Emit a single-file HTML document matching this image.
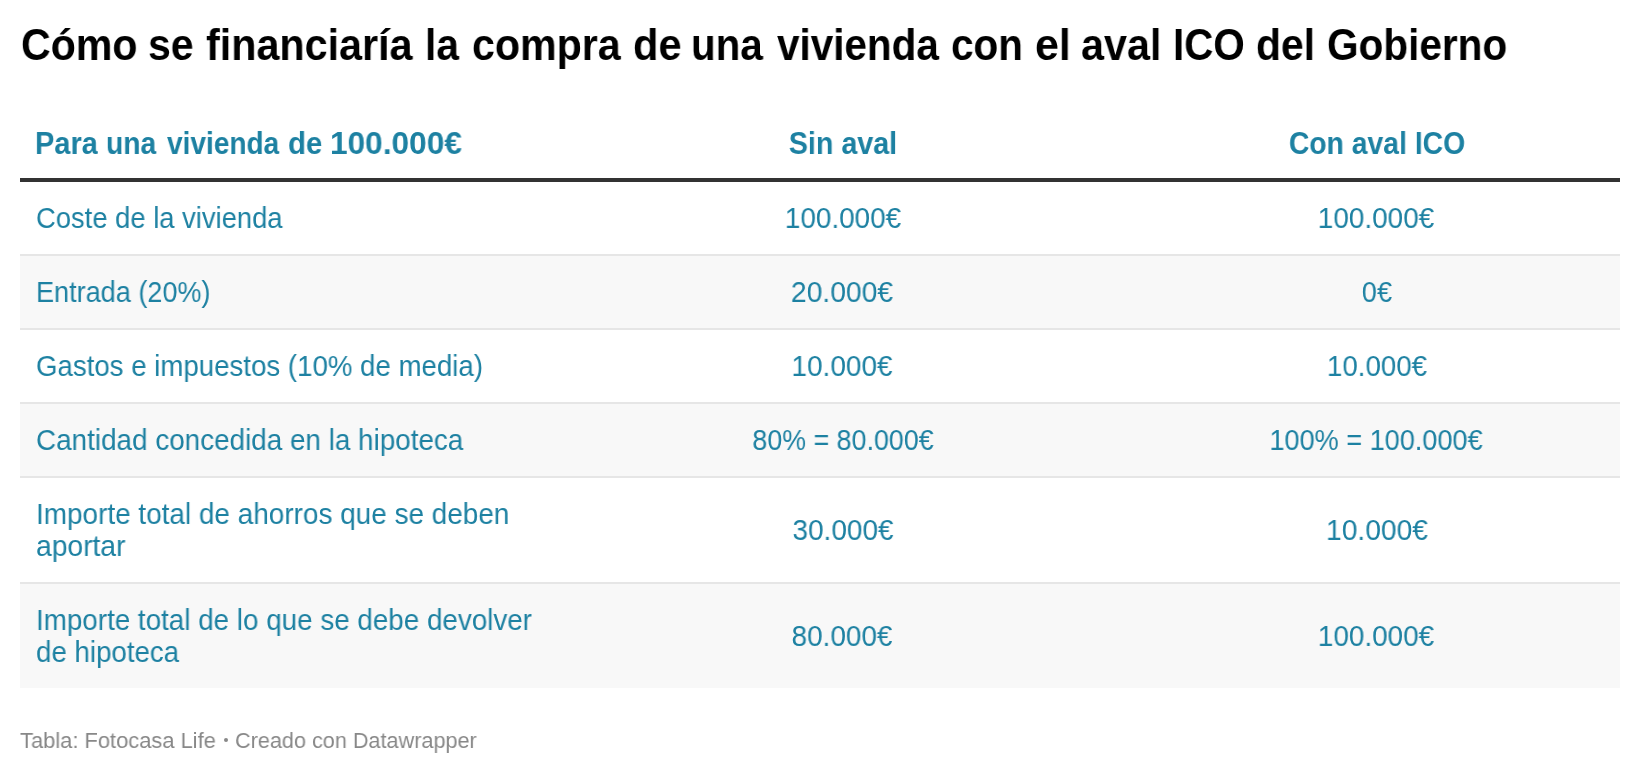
<!DOCTYPE html>
<html lang="es">
<head>
<meta charset="utf-8">
<title>Cómo se financiaría la compra de una vivienda con el aval ICO del Gobierno</title>
<style>
  html, body { margin: 0; padding: 0; background: #fff; }
  body { width: 1640px; height: 774px; position: relative; overflow: hidden;
         font-family: "Liberation Sans", sans-serif; }
  .t { position: absolute; white-space: nowrap; will-change: transform; }
  .row { position: absolute; left: 20px; width: 1600px; background: #f8f8f8; }
  .bd { position: absolute; left: 20px; width: 1600px; height: 2px; background: #e6e6e6; }
</style>
</head>
<body>
  <div style="position:absolute;left:20px;top:178px;width:1600px;height:4px;background:#333;"></div>
  <div class="row" style="top:256px;height:72px;"></div>
  <div class="row" style="top:404px;height:72px;"></div>
  <div class="row" style="top:584px;height:104px;"></div>
  <div class="bd" style="top:254px;"></div>
  <div class="bd" style="top:328px;"></div>
  <div class="bd" style="top:402px;"></div>
  <div class="bd" style="top:476px;"></div>
  <div class="bd" style="top:582px;"></div>
  <div style="position:absolute;left:223.6px;top:737.5px;width:4.6px;height:4.6px;border-radius:50%;background:#888;"></div>
  <div class="t" id="tw0" style="top:19.00px;font-size:45px;line-height:52px;color:#000;font-weight:bold;transform:scaleX(0.9136);transform-origin:0 0;left:20.50px;">Cómo</div>
  <div class="t" id="tw1" style="top:19.00px;font-size:45px;line-height:52px;color:#000;font-weight:bold;transform:scaleX(0.9109);transform-origin:0 0;left:147.50px;">se</div>
  <div class="t" id="tw2" style="top:19.00px;font-size:45px;line-height:52px;color:#000;font-weight:bold;transform:scaleX(0.9176);transform-origin:0 0;left:205.50px;">financiaría</div>
  <div class="t" id="tw3" style="top:19.00px;font-size:45px;line-height:52px;color:#000;font-weight:bold;transform:scaleX(0.9043);transform-origin:0 0;left:425.00px;">la</div>
  <div class="t" id="tw4" style="top:19.00px;font-size:45px;line-height:52px;color:#000;font-weight:bold;transform:scaleX(0.9148);transform-origin:0 0;left:471.50px;">compra</div>
  <div class="t" id="tw5" style="top:19.00px;font-size:45px;line-height:52px;color:#000;font-weight:bold;transform:scaleX(0.9258);transform-origin:0 0;left:632.50px;">de</div>
  <div class="t" id="tw6" style="top:19.00px;font-size:45px;line-height:52px;color:#000;font-weight:bold;transform:scaleX(0.8963);transform-origin:0 0;left:690.50px;">una</div>
  <div class="t" id="tw7" style="top:19.00px;font-size:45px;line-height:52px;color:#000;font-weight:bold;transform:scaleX(0.8991);transform-origin:0 0;left:776.50px;">vivienda</div>
  <div class="t" id="tw8" style="top:19.00px;font-size:45px;line-height:52px;color:#000;font-weight:bold;transform:scaleX(0.8990);transform-origin:0 0;left:951.00px;">con</div>
  <div class="t" id="tw9" style="top:19.00px;font-size:45px;line-height:52px;color:#000;font-weight:bold;transform:scaleX(0.9530);transform-origin:0 0;left:1034.50px;">el</div>
  <div class="t" id="tw10" style="top:19.00px;font-size:45px;line-height:52px;color:#000;font-weight:bold;transform:scaleX(0.9191);transform-origin:0 0;left:1081.00px;">aval</div>
  <div class="t" id="tw11" style="top:19.00px;font-size:45px;line-height:52px;color:#000;font-weight:bold;transform:scaleX(0.8962);transform-origin:0 0;left:1172.50px;">ICO</div>
  <div class="t" id="tw12" style="top:19.00px;font-size:45px;line-height:52px;color:#000;font-weight:bold;transform:scaleX(0.9081);transform-origin:0 0;left:1256.00px;">del</div>
  <div class="t" id="tw13" style="top:19.00px;font-size:45px;line-height:52px;color:#000;font-weight:bold;transform:scaleX(0.9010);transform-origin:0 0;left:1327.00px;">Gobierno</div>
  <div class="t" id="hw0" style="top:125.00px;font-size:32px;line-height:37px;color:#1d81a2;font-weight:bold;transform:scaleX(0.9060);transform-origin:0 0;left:35.00px;">Para</div>
  <div class="t" id="hw1" style="top:125.00px;font-size:32px;line-height:37px;color:#1d81a2;font-weight:bold;transform:scaleX(0.8837);transform-origin:0 0;left:105.50px;">una</div>
  <div class="t" id="hw2" style="top:125.00px;font-size:32px;line-height:37px;color:#1d81a2;font-weight:bold;transform:scaleX(0.8759);transform-origin:0 0;left:166.50px;">vivienda</div>
  <div class="t" id="hw3" style="top:125.00px;font-size:32px;line-height:37px;color:#1d81a2;font-weight:bold;transform:scaleX(0.9207);transform-origin:0 0;left:288.00px;">de</div>
  <div class="t" id="hw4" style="top:125.00px;font-size:32px;line-height:37px;color:#1d81a2;font-weight:bold;transform:scaleX(0.9878);transform-origin:0 0;left:329.50px;">100.000€</div>
  <div class="t" id="h2" style="top:125.00px;font-size:32px;line-height:37px;color:#1d81a2;font-weight:bold;transform:scaleX(0.8949);transform-origin:50% 0;left:551.60px;width:582px;text-align:center;">Sin aval</div>
  <div class="t" id="h3" style="top:125.00px;font-size:32px;line-height:37px;color:#1d81a2;font-weight:bold;transform:scaleX(0.8853);transform-origin:50% 0;left:1133.90px;width:486px;text-align:center;">Con aval ICO</div>
  <div class="t" id="r1a" style="top:202.00px;font-size:29px;line-height:33px;color:#1d81a2;transform:scaleX(0.9439);transform-origin:0 0;left:36.00px;">Coste de la vivienda</div>
  <div class="t" id="r1b" style="top:202.00px;font-size:29px;line-height:33px;color:#1d81a2;transform:scaleX(0.9614);transform-origin:50% 0;left:551.70px;width:582px;text-align:center;">100.000€</div>
  <div class="t" id="r1c" style="top:202.00px;font-size:29px;line-height:33px;color:#1d81a2;transform:scaleX(0.9631);transform-origin:50% 0;left:1132.80px;width:486px;text-align:center;">100.000€</div>
  <div class="t" id="r2a" style="top:276.00px;font-size:29px;line-height:33px;color:#1d81a2;transform:scaleX(0.9333);transform-origin:0 0;left:36.00px;">Entrada (20%)</div>
  <div class="t" id="r2b" style="top:276.00px;font-size:29px;line-height:33px;color:#1d81a2;transform:scaleX(0.9730);transform-origin:50% 0;left:551.20px;width:582px;text-align:center;">20.000€</div>
  <div class="t" id="r2c" style="top:276.00px;font-size:29px;line-height:33px;color:#1d81a2;transform:scaleX(0.9355);transform-origin:50% 0;left:1133.60px;width:486px;text-align:center;">0€</div>
  <div class="t" id="r3a" style="top:350.00px;font-size:29px;line-height:33px;color:#1d81a2;transform:scaleX(0.9529);transform-origin:0 0;left:36.00px;">Gastos e impuestos (10% de media)</div>
  <div class="t" id="r3b" style="top:350.00px;font-size:29px;line-height:33px;color:#1d81a2;transform:scaleX(0.9632);transform-origin:50% 0;left:551.30px;width:582px;text-align:center;">10.000€</div>
  <div class="t" id="r3c" style="top:350.00px;font-size:29px;line-height:33px;color:#1d81a2;transform:scaleX(0.9534);transform-origin:50% 0;left:1133.60px;width:486px;text-align:center;">10.000€</div>
  <div class="t" id="r4a" style="top:424.00px;font-size:29px;line-height:33px;color:#1d81a2;transform:scaleX(0.9604);transform-origin:0 0;left:36.00px;">Cantidad concedida en la hipoteca</div>
  <div class="t" id="r4b" style="top:424.00px;font-size:29px;line-height:33px;color:#1d81a2;transform:scaleX(0.9251);transform-origin:50% 0;left:552.10px;width:582px;text-align:center;">80% = 80.000€</div>
  <div class="t" id="r4c" style="top:424.00px;font-size:29px;line-height:33px;color:#1d81a2;transform:scaleX(0.9345);transform-origin:50% 0;left:1133.00px;width:486px;text-align:center;">100% = 100.000€</div>
  <div class="t" id="r5a" style="top:498.00px;font-size:29px;line-height:33px;color:#1d81a2;transform:scaleX(0.9627);transform-origin:0 0;left:36.00px;">Importe total de ahorros que se deben</div>
  <div class="t" id="r5a2" style="top:530.00px;font-size:29px;line-height:33px;color:#1d81a2;transform:scaleX(0.9737);transform-origin:0 0;left:36.00px;">aportar</div>
  <div class="t" id="r5b" style="top:514.00px;font-size:29px;line-height:33px;color:#1d81a2;transform:scaleX(0.9631);transform-origin:50% 0;left:551.50px;width:582px;text-align:center;">30.000€</div>
  <div class="t" id="r5c" style="top:514.00px;font-size:29px;line-height:33px;color:#1d81a2;transform:scaleX(0.9709);transform-origin:50% 0;left:1133.70px;width:486px;text-align:center;">10.000€</div>
  <div class="t" id="r6a" style="top:604.00px;font-size:29px;line-height:33px;color:#1d81a2;transform:scaleX(0.9584);transform-origin:0 0;left:36.00px;">Importe total de lo que se debe devolver</div>
  <div class="t" id="r6a2" style="top:636.00px;font-size:29px;line-height:33px;color:#1d81a2;transform:scaleX(0.9544);transform-origin:0 0;left:36.00px;">de hipoteca</div>
  <div class="t" id="r6b" style="top:620.00px;font-size:29px;line-height:33px;color:#1d81a2;transform:scaleX(0.9612);transform-origin:50% 0;left:551.40px;width:582px;text-align:center;">80.000€</div>
  <div class="t" id="r6c" style="top:620.00px;font-size:29px;line-height:33px;color:#1d81a2;transform:scaleX(0.9614);transform-origin:50% 0;left:1133.30px;width:486px;text-align:center;">100.000€</div>
  <div class="t" id="foot1" style="top:727.00px;font-size:22.75px;line-height:26px;color:#888;transform:scaleX(0.9617);transform-origin:0 0;left:20.00px;">Tabla: Fotocasa Life</div>
  <div class="t" id="foot2" style="top:727.00px;font-size:22.75px;line-height:26px;color:#888;transform:scaleX(0.9510);transform-origin:0 0;left:235.20px;">Creado con Datawrapper</div>
</body>
</html>
